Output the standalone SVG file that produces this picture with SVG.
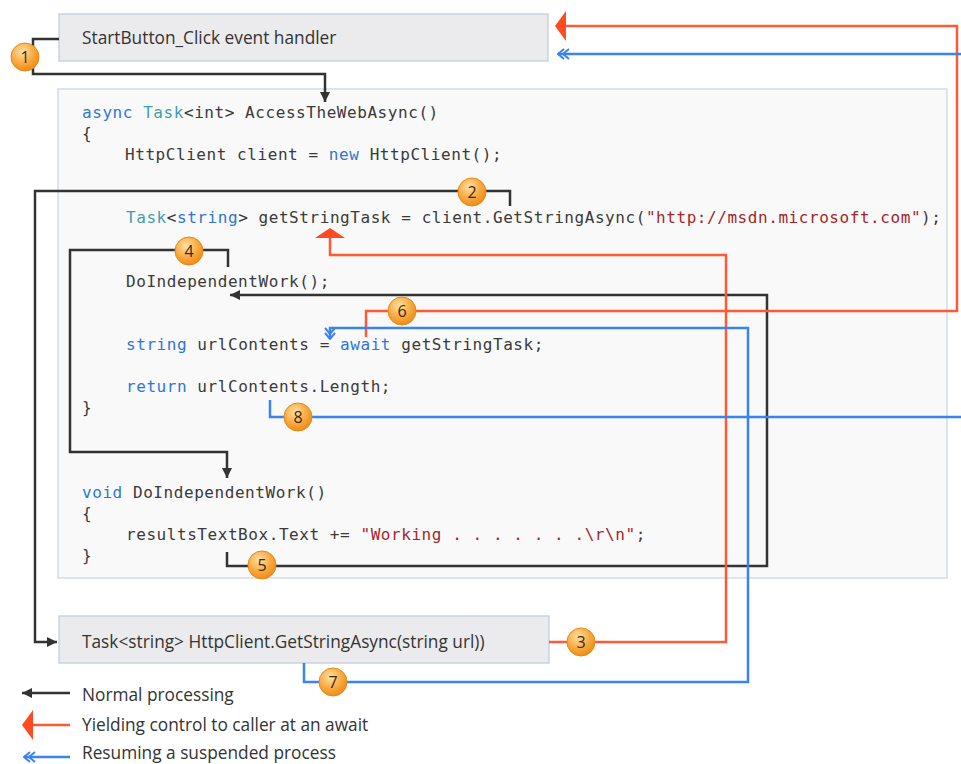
<svg xmlns="http://www.w3.org/2000/svg" width="961" height="764" viewBox="0 0 961 764">
<style>
.box{fill:#ebebed;stroke:#c8d3e3;stroke-width:1.5}
.code{fill:#f9f9f9;stroke:#d3dbe8;stroke-width:1.5}
.lbl{font-family:"Open Sans","Noto Sans",sans-serif;font-size:17.3px;fill:#333}
.mono{font-family:"DejaVu Sans Mono","Liberation Mono",monospace;font-size:16px;letter-spacing:0.56px;fill:#3a3a3a;white-space:pre}
.kw{fill:#2f76d6}
.ty{fill:#3f9fae}
.st{fill:#a3262a}
.k{fill:none;stroke:#333;stroke-width:2.5}
.r{fill:none;stroke:#ff5a36;stroke-width:2.5}
.b{fill:none;stroke:#3b84ee;stroke-width:2.5}
.rh{fill:#ff4a22}
.badge circle{fill:url(#og);stroke:#e48a18;stroke-width:1}
.badge text{font-family:"Open Sans","Noto Sans",sans-serif;font-size:16px;fill:#3a2a10;text-anchor:middle}
</style>
<defs>
<radialGradient id="og" cx="0.4" cy="0.32" r="0.7">
<stop offset="0" stop-color="#ffe2a6"/>
<stop offset="0.55" stop-color="#f9ac45"/>
<stop offset="1" stop-color="#ee8a16"/>
</radialGradient>
<marker id="ak" markerUnits="userSpaceOnUse" markerWidth="12" markerHeight="12" refX="10" refY="5" orient="auto" viewBox="0 0 12 10">
<path d="M0,0 L10,5 L0,10 z" fill="#333"/>
</marker>
<marker id="ab" markerUnits="userSpaceOnUse" markerWidth="14" markerHeight="14" refX="13" refY="6" orient="auto" viewBox="0 0 14 12">
<path d="M2,1 L8,6 L2,11 M7,1 L13,6 L7,11" fill="none" stroke="#3b84ee" stroke-width="2"/>
</marker>
</defs>
<rect width="961" height="764" fill="#ffffff"/>

<g id="node-start"><rect class="box" x="59" y="14" width="489" height="47"/><text class="lbl" x="82" y="44">StartButton_Click event handler</text></g>

<g id="node-code">
<rect class="code" x="58" y="89" width="889" height="489"/>
<text class="mono" x="82" y="118"><tspan class="kw">async</tspan> <tspan class="ty">Task</tspan>&lt;int&gt; AccessTheWebAsync()</text>
<text class="mono" x="82" y="139">{</text>
<text class="mono" x="125" y="160">HttpClient client = <tspan class="kw">new</tspan> HttpClient();</text>
<text class="mono" x="126" y="223"><tspan class="ty">Task</tspan>&lt;<tspan class="kw">string</tspan>&gt; getStringTask = client.GetStringAsync(<tspan class="st">"http://msdn.microsoft.com"</tspan>);</text>
<text class="mono" x="126" y="287">DoIndependentWork();</text>
<text class="mono" x="126" y="350"><tspan class="kw">string</tspan> urlContents = <tspan class="kw">await</tspan> getStringTask;</text>
<text class="mono" x="126" y="392"><tspan class="kw">return</tspan> urlContents.Length;</text>
<text class="mono" x="82" y="413">}</text>
<text class="mono" x="82" y="498"><tspan class="kw">void</tspan> DoIndependentWork()</text>
<text class="mono" x="82" y="519">{</text>
<text class="mono" x="126" y="540">resultsTextBox.Text += <tspan class="st">"Working . . . . . . .\r\n"</tspan>;</text>
<text class="mono" x="82" y="561">}</text>
</g>

<g id="node-getstring"><rect class="box" x="59" y="616" width="490" height="47"/><text class="lbl" x="82" y="648">Task&lt;string&gt; HttpClient.GetStringAsync(string url))</text></g>

<g id="connectors">
<path class="k" d="M59,39 H33 V74 H325 V102" marker-end="url(#ak)"/>
<path class="k" d="M510,206 V191 H35 V642 H57" marker-end="url(#ak)"/>
<path class="k" d="M228,267 V250 H70 V452 H227 V478" marker-end="url(#ak)"/>
<path class="k" d="M227,552 V566 H767 V295 H230" marker-end="url(#ak)"/>
<path class="r" d="M549,642 H726 V255 H330 V237"/>
<polygon class="rh" points="330,228 345,238 315,238"/>
<path class="r" d="M366,337 V311 H957 V26 H564"/>
<polygon class="rh" points="555,26 566,11 566,41"/>
<path class="b" d="M961,54 H558" marker-end="url(#ab)"/>
<path class="b" d="M270,400 V417 H961"/>
<path class="b" d="M304,663 V682 H748 V328 H330 V339" marker-end="url(#ab)"/>
</g>

<g id="badge-1" class="badge"><circle cx="25" cy="57" r="14"/><text x="25" y="62.5">1</text></g>
<g id="badge-2" class="badge"><circle cx="472" cy="192" r="14"/><text x="472" y="197.5">2</text></g>
<g id="badge-3" class="badge"><circle cx="581" cy="642" r="14"/><text x="581" y="647.5">3</text></g>
<g id="badge-4" class="badge"><circle cx="189" cy="251" r="14"/><text x="189" y="256.5">4</text></g>
<g id="badge-5" class="badge"><circle cx="262" cy="565" r="14"/><text x="262" y="570.5">5</text></g>
<g id="badge-6" class="badge"><circle cx="402" cy="311" r="14"/><text x="402" y="316.5">6</text></g>
<g id="badge-7" class="badge"><circle cx="333" cy="682" r="14"/><text x="333" y="687.5">7</text></g>
<g id="badge-8" class="badge"><circle cx="298" cy="417" r="14"/><text x="298" y="422.5">8</text></g>

<g id="legend">
<path class="k" d="M70,693 H22" marker-end="url(#ak)"/>
<text class="lbl" x="82" y="701">Normal processing</text>
<path class="r" d="M70,725 H32"/>
<polygon class="rh" points="22,725 33,710 33,740"/>
<text class="lbl" x="82" y="731">Yielding control to caller at an await</text>
<path class="b" d="M70,757 H24" marker-end="url(#ab)"/>
<text class="lbl" x="82" y="759">Resuming a suspended process</text>
</g>
</svg>
